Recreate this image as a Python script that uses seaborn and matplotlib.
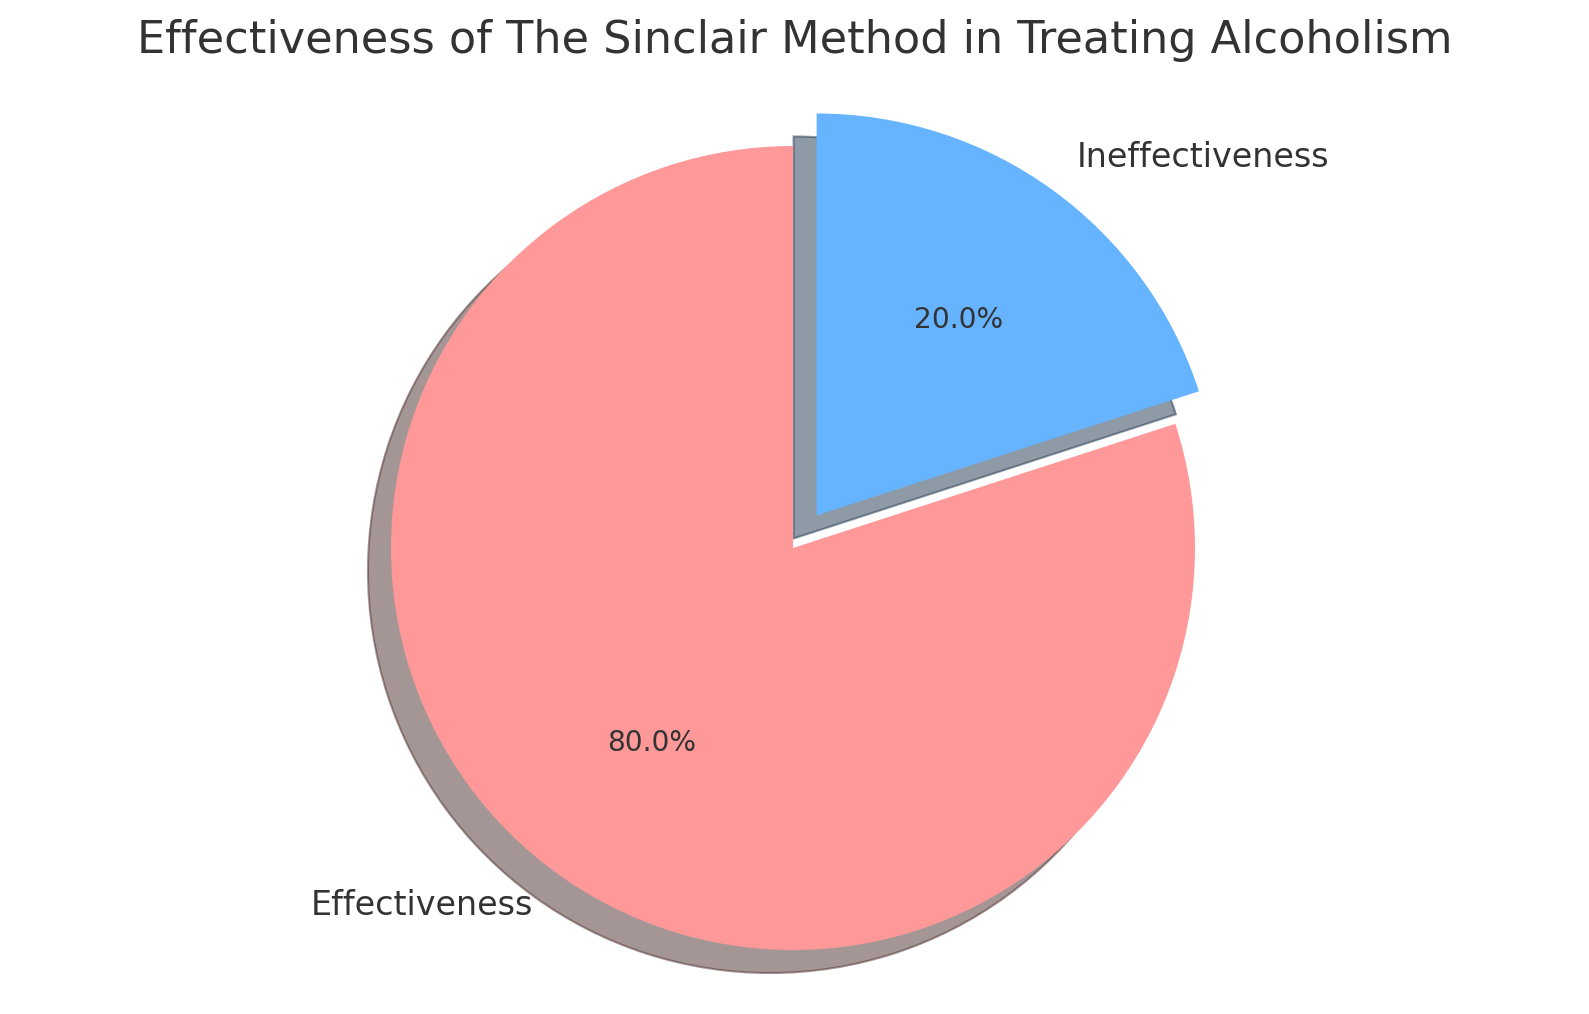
import matplotlib
matplotlib.use("Agg")
import matplotlib.pyplot as plt
import seaborn as sns

labels = ["Effectiveness", "Ineffectiveness"]
values = [80, 20]
colors = ["#ff9999", "#66b3ff"]
explode = [0, 0.1]

sns.set_theme(style="white")
plt.rcParams['font.family'] = ['DejaVu Sans']
plt.rcParams['text.color'] = '#333333'
plt.rcParams['patch.edgecolor'] = 'black'
plt.rcParams['patch.force_edgecolor'] = False

W, H, DPI = 1589, 1014, 150
fig = plt.figure(figsize=(W / DPI, H / DPI), dpi=DPI)
ax = fig.add_axes([0, 0, 1, 1])
wedges, texts, autotexts = ax.pie(values, labels=labels, colors=colors, explode=explode,
                                  autopct='%1.1f%%', startangle=90,
                                  shadow={'ox': -0.0275, 'oy': -0.0275},
                                  textprops={'fontsize': 16, 'color': '#333333'})
for t in autotexts:
    t.set_fontsize(13.5)

s = 402.0
cx, cy = 793.0, 548.0
ax.set_xlim(-cx / s, (W - cx) / s)
ax.set_ylim(-(H - cy) / s, cy / s)
ax.set_aspect('auto')
ax.axis('off')
fig.text(0.5, 1 - 41 / H, "Effectiveness of The Sinclair Method in Treating Alcoholism",
         ha='center', va='center', fontsize=21.4, color='#333333')
fig.savefig("out.png", dpi=DPI)
